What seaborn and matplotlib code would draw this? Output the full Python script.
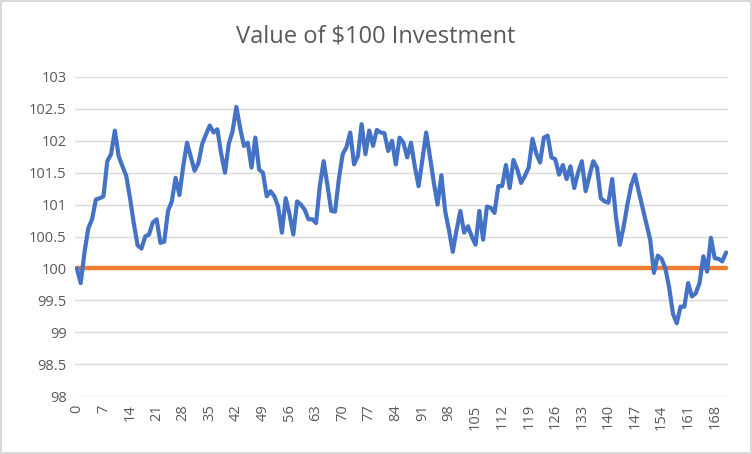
import numpy as np
import pandas as pd
import matplotlib
matplotlib.use("Agg")
import matplotlib.pyplot as plt
import seaborn as sns

# value of the investment, one point per period
values = [
    100.00, 99.77, 100.25, 100.63, 100.77, 101.08, 101.10, 101.13, 101.68, 101.79,
    102.16, 101.76, 101.60, 101.45, 101.10, 100.70, 100.36, 100.31, 100.50, 100.53,
    100.72, 100.77, 100.40, 100.42, 100.90, 101.05, 101.42, 101.15, 101.60, 101.97,
    101.75, 101.53, 101.65, 101.95, 102.10, 102.24, 102.13, 102.18, 101.80, 101.50,
    101.95, 102.15, 102.53, 102.20, 101.92, 101.97, 101.58, 102.05, 101.55, 101.50,
    101.13, 101.21, 101.13, 100.97, 100.56, 101.10, 100.85, 100.53, 101.05, 101.00,
    100.92, 100.77, 100.77, 100.71, 101.30, 101.68, 101.30, 100.90, 100.89, 101.40,
    101.79, 101.90, 102.13, 101.63, 101.76, 102.26, 101.79, 102.16, 101.92, 102.17,
    102.13, 102.12, 101.84, 102.00, 101.63, 102.05, 101.97, 101.74, 101.97, 101.60,
    101.29, 101.70, 102.13, 101.75, 101.35, 101.00, 101.46, 100.90, 100.60, 100.26,
    100.60, 100.90, 100.56, 100.66, 100.50, 100.37, 100.90, 100.45, 100.97, 100.95,
    100.87, 101.29, 101.29, 101.62, 101.26, 101.70, 101.55, 101.34, 101.45, 101.58,
    102.03, 101.80, 101.66, 102.05, 102.08, 101.74, 101.71, 101.47, 101.62, 101.40,
    101.60, 101.26, 101.50, 101.68, 101.21, 101.45, 101.68, 101.58, 101.10, 101.05,
    101.03, 101.40, 100.80, 100.37, 100.65, 101.00, 101.30, 101.47, 101.20, 100.95,
    100.70, 100.45, 99.93, 100.20, 100.15, 100.00, 99.70, 99.29, 99.14, 99.40,
    99.40, 99.77, 99.56, 99.61, 99.77, 100.19, 99.95, 100.48, 100.16, 100.15,
    100.11, 100.25,
]
baseline = [100.0] * len(values)
periods = list(range(len(values)))

df = pd.DataFrame({"period": periods, "value": values, "base": baseline})

sns.set_style("white")
plt.rcParams["font.family"] = ["Open Sans", "DejaVu Sans"]

fig = plt.figure(figsize=(7.52, 4.54), dpi=100)
fig.patch.set_edgecolor("#d9d9d9")
fig.patch.set_linewidth(1.5)
ax = fig.add_axes([75 / 752, 1 - 396 / 454, (728 - 75) / 752, (396 - 77) / 454])

sns.lineplot(data=df, x="period", y="value", color="#4472C4", linewidth=3.0, ax=ax, zorder=3)
sns.lineplot(data=df, x="period", y="base", color="#ED7D31", linewidth=3.2, ax=ax, zorder=2)

ax.set_xlim(-0.5, len(values) - 0.5)
ax.set_ylim(98, 103)
yt = np.arange(98, 103.01, 0.5)
ax.set_yticks(yt)
ax.set_yticklabels([f"{v:g}" for v in yt])
ax.set_xticks(range(0, len(values), 7))
ax.set_xticklabels([str(t) for t in range(0, len(values), 7)], rotation=90)
ax.tick_params(axis="both", length=0, labelsize=10.5, colors="#595959", pad=6)
ax.grid(axis="y", color="#d9d9d9", linewidth=1)
for s in ax.spines.values():
    s.set_visible(False)
ax.set_xlabel("")
ax.set_ylabel("")

fig.text(0.5, 1 - 37 / 454, "Value of \\$100 Investment", ha="center", va="center",
         fontsize=17, color="#595959")

fig.savefig("out.png", dpi=100)
